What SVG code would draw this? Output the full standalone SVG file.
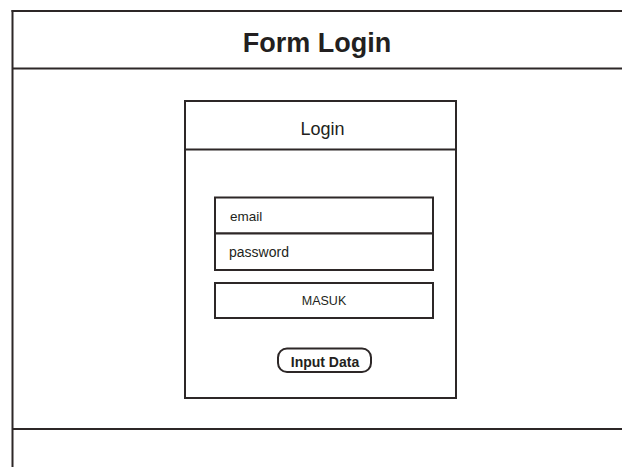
<svg xmlns="http://www.w3.org/2000/svg" width="622" height="467" viewBox="0 0 622 467">
  <style>
    .ln { fill: none; stroke: #2d2727; stroke-width: 2; }
    .bx { fill: #ffffff; stroke: #2d2727; stroke-width: 2; }
    .t { font-family: "Liberation Sans", Arial, sans-serif; fill: #231f20; }
  </style>
  <rect width="622" height="467" fill="#ffffff"/>
  <g id="frame">
    <line class="ln" x1="12.5" y1="10" x2="12.5" y2="467"/>
    <line class="ln" x1="11.5" y1="11" x2="622" y2="11"/>
    <line class="ln" x1="12.5" y1="68.5" x2="622" y2="68.5"/>
    <line class="ln" x1="12.5" y1="429" x2="622" y2="429"/>
    <text class="t" x="317" y="52" font-size="27" font-weight="bold" text-anchor="middle">Form Login</text>
  </g>
  <g id="login-panel">
    <rect class="bx" x="185" y="101" width="271" height="297"/>
    <line class="ln" x1="185" y1="149.5" x2="456" y2="149.5"/>
    <text class="t" x="322.5" y="134.5" font-size="18" text-anchor="middle">Login</text>
  </g>
  <g id="email">
    <rect class="bx" x="215" y="197.5" width="218" height="36"/>
    <text class="t" x="230" y="221" font-size="13.5">email</text>
  </g>
  <g id="password">
    <rect class="bx" x="215" y="233.5" width="218" height="36.5"/>
    <text class="t" x="229" y="256.5" font-size="14">password</text>
  </g>
  <g id="masuk">
    <rect class="bx" x="215" y="283" width="218" height="35"/>
    <text class="t" x="324" y="305" font-size="12.5" text-anchor="middle">MASUK</text>
  </g>
  <g id="input-data">
    <rect class="bx" x="278" y="348.5" width="93" height="23.5" rx="9" ry="9"/>
    <text class="t" x="325" y="367" font-size="14" font-weight="bold" text-anchor="middle">Input Data</text>
  </g>
  <g id="connectors"/>
</svg>
